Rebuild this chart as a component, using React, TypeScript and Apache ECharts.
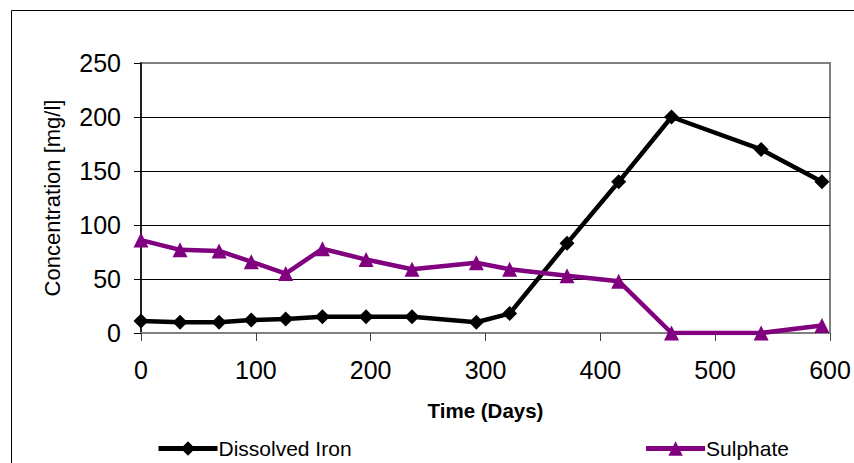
import React, { useEffect, useRef } from "react";
import * as echarts from "echarts";

const days = [0, 34, 68, 96, 126, 158, 196, 236, 292, 321, 371, 416, 462, 540, 593];
const ironValues = [11, 10, 10, 12, 13, 15, 15, 15, 10, 18, 83, 140, 200, 170, 140];
const sulphateValues = [86, 77, 76, 66, 55, 78, 68, 59, 65, 59, 53, 48, 0, 0, 7];
const seriesNames = ["Dissolved Iron", "Sulphate"];
const xAxisTitle = "Time (Days)";
const yAxisTitle = "Concentration [mg/l]";

const FONT = "'Liberation Sans', Arial, sans-serif";

export default function App() {
  const ref = useRef<HTMLDivElement>(null);
  useEffect(() => {
    if (!ref.current) return;
    const chart = echarts.init(ref.current, undefined, { renderer: "svg" });
    const pair = (vals: number[]) => days.map((d, i) => [d, vals[i]]);
    chart.setOption({
      animation: false,
      backgroundColor: "#ffffff",
      textStyle: { fontFamily: FONT },
      graphic: [
        {
          type: "rect",
          shape: { x: 11.5, y: 10.5, width: 900, height: 500 },
          style: { fill: "none", stroke: "#000", lineWidth: 1 },
          silent: true,
          z: -10,
        },
      ],
      grid: {
        left: 141,
        right: 24,
        top: 63,
        bottom: 130,
        show: true,
        backgroundColor: "#ffffff",
        borderColor: "#808080",
        borderWidth: 2,
      },
      legend: {
        data: seriesNames,
        left: 156,
        top: 438,
        padding: 0,
        itemWidth: 59,
        itemHeight: 18,
        itemGap: 292,
        lineStyle: { width: 5 },
        textStyle: { fontFamily: FONT, fontSize: 21, color: "#000", padding: [0, 0, 0, -4] },
      },
      xAxis: {
        type: "value",
        min: 0,
        max: 600,
        interval: 100,
        name: xAxisTitle,
        nameLocation: "middle",
        nameGap: 67,
        nameTextStyle: { fontFamily: FONT, fontSize: 20.5, fontWeight: "bold", color: "#000" },
        axisLine: { show: true, onZero: false, lineStyle: { color: "#808080", width: 2 } },
        axisTick: { show: true, length: 8, lineStyle: { color: "#404040", width: 1 } },
        axisLabel: { fontFamily: FONT, fontSize: 25, color: "#000", margin: 24 },
        splitLine: { show: false },
      },
      yAxis: {
        type: "value",
        min: 0,
        max: 250,
        interval: 50,
        name: yAxisTitle,
        nameLocation: "middle",
        nameGap: 78,
        nameTextStyle: { fontFamily: FONT, fontSize: 22, color: "#000" },
        axisLine: { show: true, lineStyle: { color: "#000", width: 1.5 } },
        axisTick: { show: true, length: 7, lineStyle: { color: "#000", width: 1 } },
        axisLabel: { fontFamily: FONT, fontSize: 25, color: "#000", margin: 20 },
        splitLine: {
          show: true,
          lineStyle: {
            color: ["#808080", "#000", "#000", "#000", "#000", "#808080"],
            width: 1,
          },
        },
      },
      series: [
        {
          name: seriesNames[0],
          type: "line",
          data: pair(ironValues),
          symbol: "diamond",
          symbolSize: 15,
          lineStyle: { color: "#000", width: 4.5 },
          itemStyle: { color: "#000" },
        },
        {
          name: seriesNames[1],
          type: "line",
          data: pair(sulphateValues),
          symbol: "triangle",
          symbolSize: 15,
          lineStyle: { color: "#800080", width: 4.5 },
          itemStyle: { color: "#800080" },
        },
      ],
    });
    return () => chart.dispose();
  }, []);
  return <div ref={ref} style={{ width: 854, height: 463, position: "absolute", left: 0, top: 0 }} />;
}
